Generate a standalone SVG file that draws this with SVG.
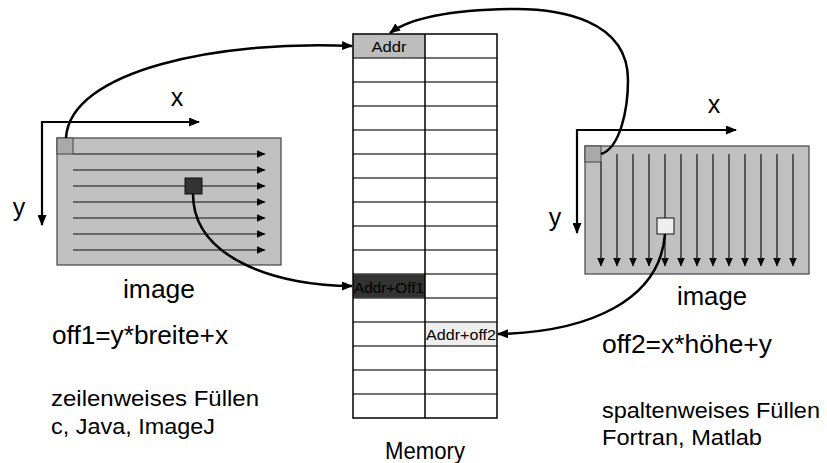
<svg xmlns="http://www.w3.org/2000/svg" width="827" height="463" viewBox="0 0 827 463">
<style>
text { font-family: "Liberation Sans", Arial, sans-serif; fill: #000; }
.img { fill: #c0c0c0; stroke: #444; stroke-width: 1.2; }
.scan { stroke: #111; stroke-width: 1.2; fill: none; marker-end: url(#sm); }
.axis { stroke: #000; stroke-width: 2.2; fill: none; }
.conn { stroke: #000; stroke-width: 2.5; fill: none; marker-end: url(#big); }
.hl { stroke: #444; stroke-width: 1.5; }
.vl { stroke: #000; stroke-width: 1.5; }
</style>
<defs>
<marker id="big" markerUnits="userSpaceOnUse" markerWidth="11" markerHeight="9" refX="10" refY="4.5" orient="auto">
<path d="M0,0 L11,4.5 L0,9 z" fill="#000"/>
</marker>
<marker id="ax" markerUnits="userSpaceOnUse" markerWidth="11" markerHeight="9" refX="10" refY="4.5" orient="auto">
<path d="M0,0 L11,4.5 L0,9 z" fill="#000"/>
</marker>
<marker id="sm" markerUnits="userSpaceOnUse" markerWidth="9" markerHeight="8" refX="8.5" refY="4" orient="auto">
<path d="M0,0 L9,4 L0,8 z" fill="#000"/>
</marker>
</defs>

<g id="memory">
<rect x="353" y="34" width="72" height="24" fill="#bdbdbd"/>
<rect x="353" y="274" width="72" height="24" fill="#333"/>
<rect x="425" y="322" width="72" height="24" fill="#eee"/>
<g class="hl">
<line x1="353" y1="58" x2="497" y2="58"/><line x1="353" y1="82" x2="497" y2="82"/>
<line x1="353" y1="106" x2="497" y2="106"/><line x1="353" y1="130" x2="497" y2="130"/>
<line x1="353" y1="154" x2="497" y2="154"/><line x1="353" y1="178" x2="497" y2="178"/>
<line x1="353" y1="202" x2="497" y2="202"/><line x1="353" y1="226" x2="497" y2="226"/>
<line x1="353" y1="250" x2="497" y2="250"/><line x1="353" y1="274" x2="497" y2="274"/>
<line x1="353" y1="298" x2="497" y2="298"/><line x1="353" y1="322" x2="497" y2="322"/>
<line x1="353" y1="346" x2="497" y2="346"/><line x1="353" y1="370" x2="497" y2="370"/>
<line x1="353" y1="394" x2="497" y2="394"/>
</g>
<line class="vl" x1="425" y1="34" x2="425" y2="418"/>
<rect x="353" y="34" width="144" height="384" fill="none" stroke="#000" stroke-width="1.5"/>
<text x="389" y="52" font-size="15" text-anchor="middle" textLength="35" lengthAdjust="spacingAndGlyphs">Addr</text>
<text x="354" y="293" font-size="15" textLength="70" lengthAdjust="spacingAndGlyphs">Addr+Off1</text>
<text x="426" y="340" font-size="15" textLength="70" lengthAdjust="spacingAndGlyphs">Addr+off2</text>
<text x="425" y="459" font-size="23" text-anchor="middle" textLength="80" lengthAdjust="spacingAndGlyphs">Memory</text>
</g>

<g id="left-image">
<line class="axis" x1="42" y1="122" x2="199" y2="122" marker-end="url(#ax)"/>
<line class="axis" x1="42" y1="121" x2="42" y2="225" marker-end="url(#ax)"/>
<text x="177" y="106" font-size="25" text-anchor="middle">x</text>
<text x="19" y="216" font-size="25" text-anchor="middle">y</text>
<rect class="img" x="57" y="138" width="224" height="127"/>
<rect x="57" y="138" width="16" height="16" fill="#aaa" stroke="#444" stroke-width="1"/>
<line class="scan" x1="73" y1="154" x2="265" y2="154"/>
<line class="scan" x1="73" y1="170" x2="265" y2="170"/>
<line class="scan" x1="73" y1="186" x2="265" y2="186"/>
<line class="scan" x1="73" y1="202" x2="265" y2="202"/>
<line class="scan" x1="73" y1="218" x2="265" y2="218"/>
<line class="scan" x1="73" y1="234" x2="265" y2="234"/>
<line class="scan" x1="73" y1="250" x2="265" y2="250"/>
<rect x="185" y="178" width="17" height="16" fill="#333" stroke="#111" stroke-width="1"/>
<text x="159" y="298" font-size="25" text-anchor="middle" textLength="72" lengthAdjust="spacingAndGlyphs">image</text>
<text x="52" y="344" font-size="25" textLength="176" lengthAdjust="spacingAndGlyphs">off1=y*breite+x</text>
<text x="51" y="406" font-size="21.5" textLength="208" lengthAdjust="spacingAndGlyphs">zeilenweises Füllen</text>
<text x="51" y="434" font-size="21.5" textLength="164" lengthAdjust="spacingAndGlyphs">c, Java, ImageJ</text>
</g>

<g id="right-image">
<line class="axis" x1="577" y1="130" x2="736" y2="130" marker-end="url(#ax)"/>
<line class="axis" x1="577" y1="129" x2="577" y2="233" marker-end="url(#ax)"/>
<text x="714" y="113" font-size="25" text-anchor="middle">x</text>
<text x="555" y="226" font-size="25" text-anchor="middle">y</text>
<rect class="img" x="585" y="146" width="224" height="128"/>
<rect x="585" y="146" width="16" height="16" fill="#aaa" stroke="#444" stroke-width="1"/>
<line class="scan" x1="601" y1="162" x2="601" y2="266"/>
<line class="scan" x1="617" y1="154" x2="617" y2="266"/>
<line class="scan" x1="633" y1="154" x2="633" y2="266"/>
<line class="scan" x1="649" y1="154" x2="649" y2="266"/>
<line class="scan" x1="665" y1="154" x2="665" y2="266"/>
<line class="scan" x1="681" y1="154" x2="681" y2="266"/>
<line class="scan" x1="697" y1="154" x2="697" y2="266"/>
<line class="scan" x1="713" y1="154" x2="713" y2="266"/>
<line class="scan" x1="729" y1="154" x2="729" y2="266"/>
<line class="scan" x1="745" y1="154" x2="745" y2="266"/>
<line class="scan" x1="761" y1="154" x2="761" y2="266"/>
<line class="scan" x1="777" y1="154" x2="777" y2="266"/>
<line class="scan" x1="793" y1="154" x2="793" y2="266"/>
<rect x="657" y="218" width="17" height="16" fill="#eee" stroke="#111" stroke-width="1"/>
<text x="712" y="305" font-size="25" text-anchor="middle" textLength="70" lengthAdjust="spacingAndGlyphs">image</text>
<text x="602" y="353" font-size="25" textLength="170" lengthAdjust="spacingAndGlyphs">off2=x*höhe+y</text>
<text x="602" y="418" font-size="21.5" textLength="218" lengthAdjust="spacingAndGlyphs">spaltenweises Füllen</text>
<text x="602" y="445" font-size="21.5" textLength="160" lengthAdjust="spacingAndGlyphs">Fortran, Matlab</text>
</g>

<g id="connectors">
<path class="conn" d="M66,138 C70,70 220,40 352,46"/>
<path class="conn" d="M193,194 C193,260 280,286 352,286"/>
<path class="conn" d="M601,154 C620,148 628,110 628,80 C628,20 560,8 510,9 C450,10 410,18 390,33"/>
<path class="conn" d="M665,234 C660,300 590,332 498,334"/>
</g>
</svg>
